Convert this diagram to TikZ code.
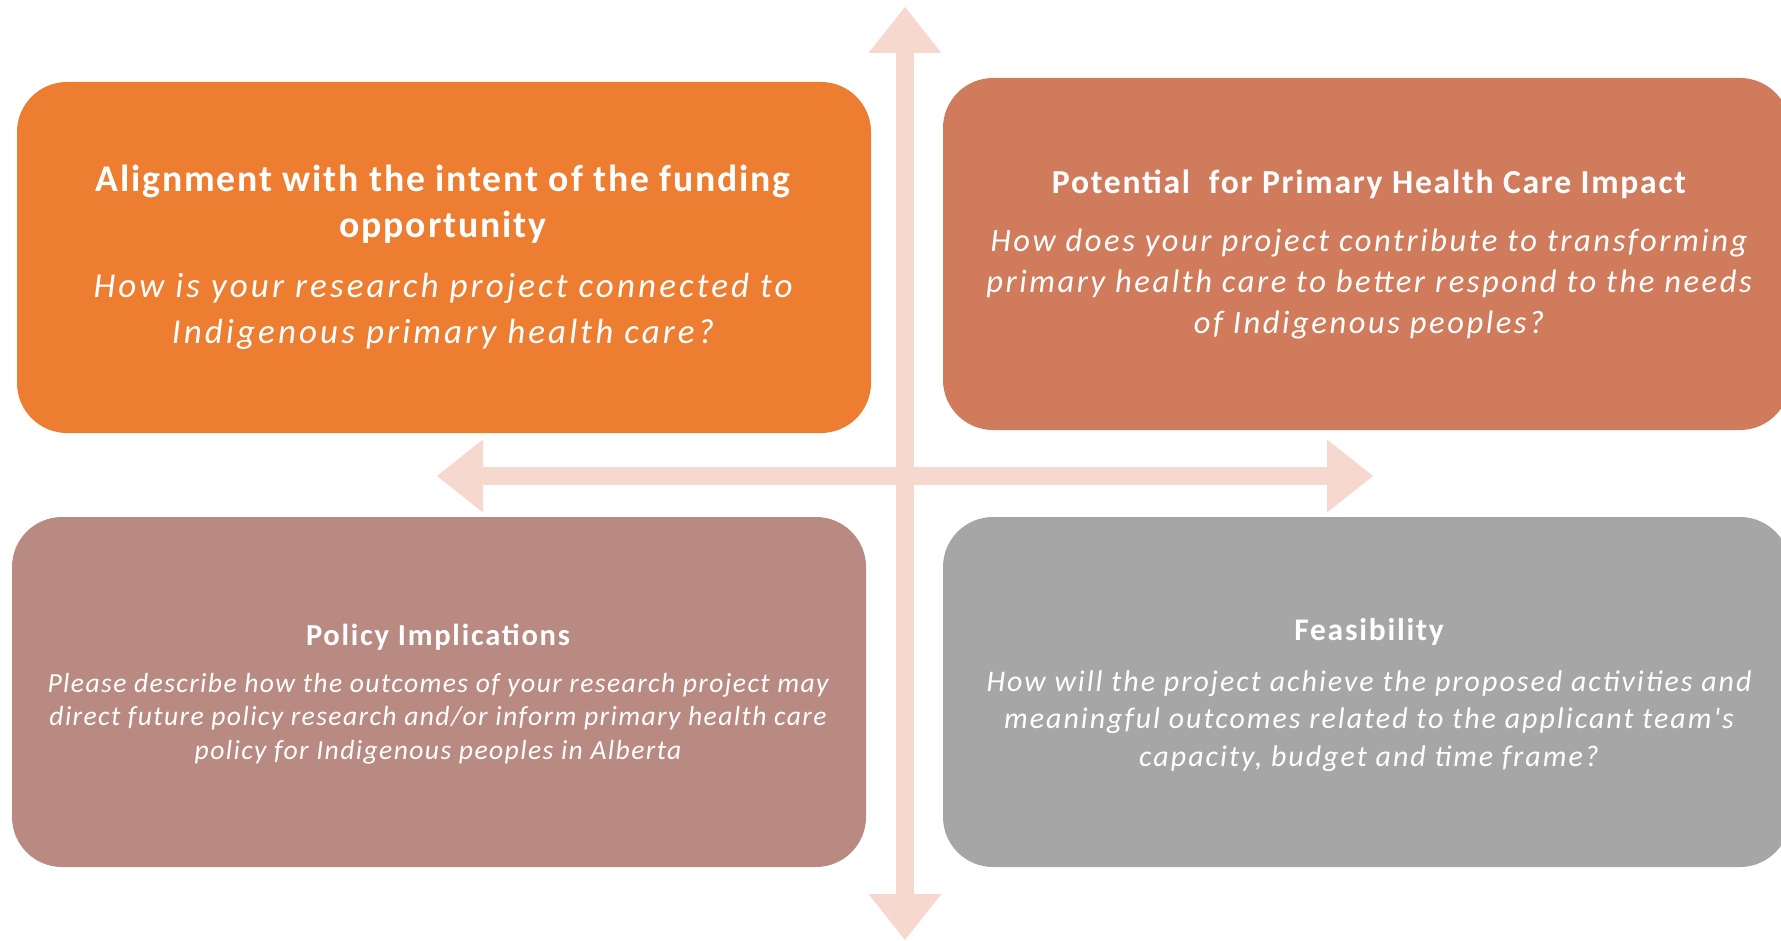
\documentclass[tikz,border=0pt]{standalone}
\usepackage{fontspec}
\setmainfont{Carlito}
\newfontfamily\fTLa[LetterSpace=4.9]{Carlito}
\newfontfamily\fTLb[LetterSpace=8.9]{Carlito}
\newfontfamily\fTRa[LetterSpace=5.3]{Carlito}
\newfontfamily\fTRb[LetterSpace=7.9]{Carlito}
\newfontfamily\fBLa[LetterSpace=5.8]{Carlito}
\newfontfamily\fBLb[LetterSpace=5.1]{Carlito}
\newfontfamily\fBRa[LetterSpace=5.6]{Carlito}
\newfontfamily\fBRb[LetterSpace=6.8]{Carlito}
\usetikzlibrary{arrows.meta}
\definecolor{cOrange}{HTML}{ED7D31}
\definecolor{cRust}{HTML}{D17B5D}
\definecolor{cRose}{HTML}{B88A82}
\definecolor{cGrey}{HTML}{A6A6A6}
\definecolor{cArrow}{HTML}{F7D8CE}
\begin{document}
\begin{tikzpicture}[x=1pt,y=-1pt,
  box/.style={rounded corners=50pt, inner sep=0pt, draw=none},
  boxtext/.style={align=center, text=white, inner sep=0pt, anchor=base},
  bigarrow/.style={line width=18pt, draw=cArrow,
    {Triangle[width=73pt,length=46pt,line width=0pt,fill=cArrow]}-{Triangle[width=73pt,length=46pt,line width=0pt,fill=cArrow]}}]
\useasboundingbox (0,0) rectangle (1781,941);
\clip (0,0) rectangle (1781,941);
% boxes
\node[box, fill=cOrange, minimum width=854pt, minimum height=351pt] (tl) at (444,257.5) {};
\node[box, fill=cRust, minimum width=847pt, minimum height=352pt] (tr) at (1366.5,254) {};
\node[box, fill=cRose, minimum width=854pt, minimum height=350pt] (bl) at (439,692) {};
\node[box, fill=cGrey, minimum width=847pt, minimum height=350pt] (br) at (1366.5,692) {};
% arrows
\coordinate (vtop) at (905,7);
\coordinate (vbot) at (905,940);
\coordinate (hleft) at (437,476);
\coordinate (hright) at (1373,476);
\draw[bigarrow] (vtop) -- (vbot);
\draw[bigarrow] (hleft) -- (hright);
% texts (base anchor = baseline of the last line)
\node[boxtext, font={\fTLa\bfseries\fontsize{37.7}{46}\selectfont}] (tlh) at (443,238)
  {Alignment with the intent of the funding\\opportunity};
\node[boxtext, font={\fTLb\itshape\fontsize{35}{46}\selectfont}] (tlb) at (443,344)
  {How is your research project connected to\\Indigenous primary health care?};
\node[boxtext, font={\fTRa\bfseries\fontsize{33.6}{41}\selectfont}] (trh) at (1369,194)
  {Potential\ \ for Primary Health Care Impact};
\node[boxtext, font={\fTRb\itshape\fontsize{32.5}{41}\selectfont}] (trb) at (1369,334)
  {How does your project contribute to transforming\\primary health care to better respond to the needs\\of Indigenous peoples?};
\node[boxtext, font={\fBLa\bfseries\fontsize{30.5}{34}\selectfont}] (blh) at (438,645)
  {Policy Implications};
\node[boxtext, font={\fBLb\itshape\fontsize{27.6}{33.5}\selectfont}] (blb) at (438,759)
  {Please describe how the outcomes of your research project may\\direct future policy research and/or inform primary health care\\policy for Indigenous peoples in Alberta};
\node[boxtext, font={\fBRa\bfseries\fontsize{31.5}{37}\selectfont}] (brh) at (1369,640)
  {Feasibility};
\node[boxtext, font={\fBRb\itshape\fontsize{29.9}{37.5}\selectfont}] (brb) at (1369,766)
  {How will the project achieve the proposed activities and\\meaningful outcomes related to the applicant team's\\capacity, budget and time frame?};
\end{tikzpicture}
\end{document}
